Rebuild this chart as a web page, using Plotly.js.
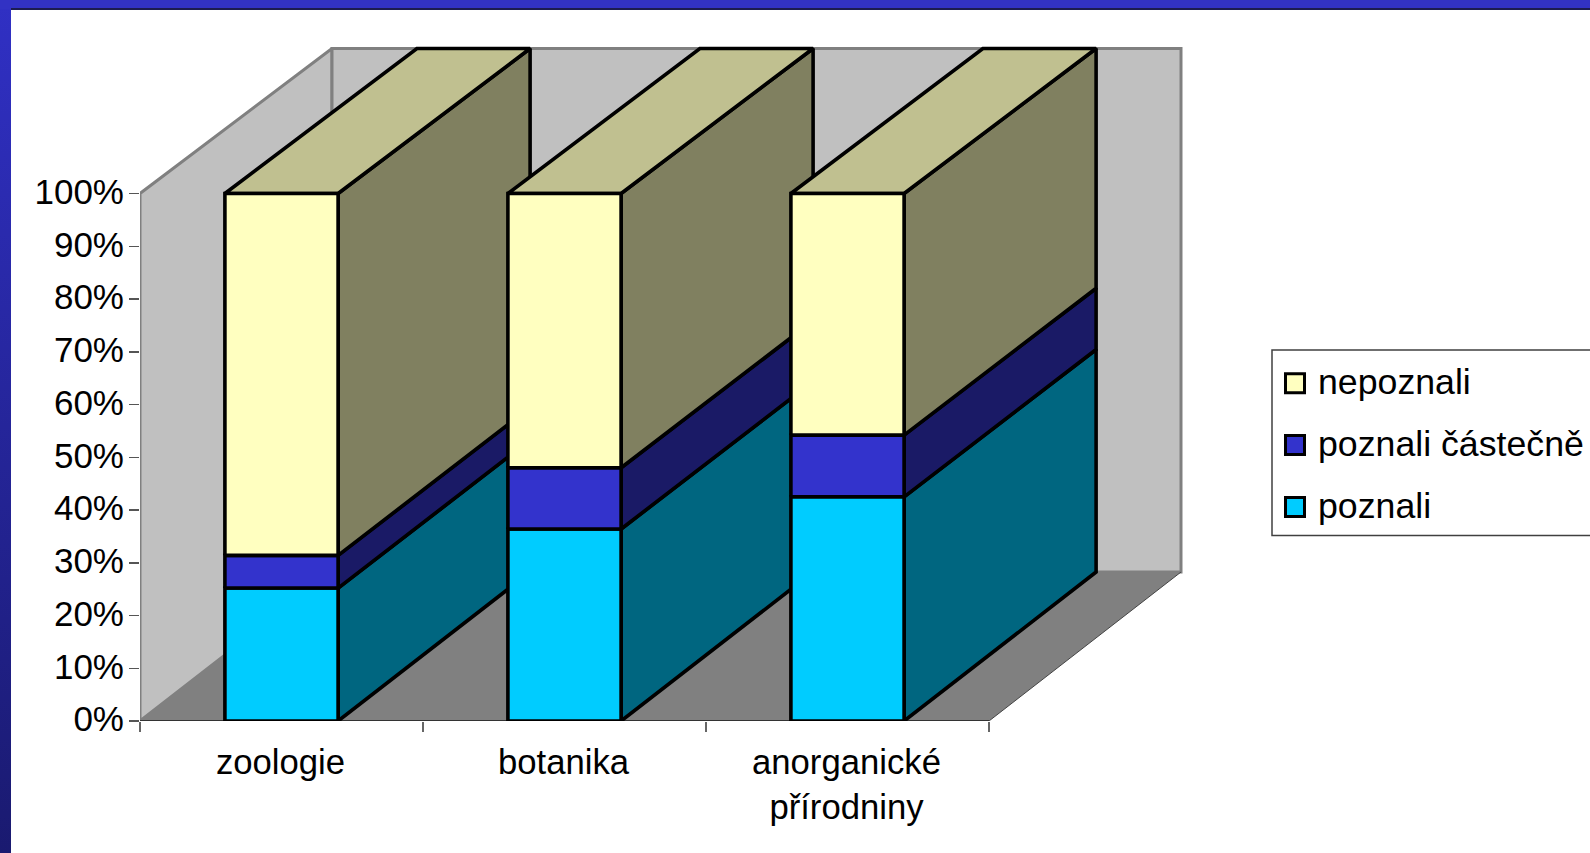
<!DOCTYPE html>
<html><head><meta charset="utf-8">
<script src="https://cdn.plot.ly/plotly-3.0.1.min.js"></script>
<style>
html,body{margin:0;padding:0;background:#fff;width:1590px;height:853px;overflow:hidden}
#left{position:absolute;left:0;top:0;width:11px;height:853px;background:linear-gradient(#3030c4,#1a1a70)}
#topband{position:absolute;left:0;top:0;width:1590px;height:9px;background:#3232c4}
#topline{position:absolute;left:11px;top:8px;width:1579px;height:2px;background:#1c1c50}
#plot{position:absolute;left:0;top:0;width:1590px;height:853px}
</style></head><body>
<div id="left"></div><div id="topband"></div><div id="topline"></div><div id="plot"></div>
<script>
const categories = ['zoologie','botanika','anorganické<br>přírodniny'];
const poznali = [25.2, 36.4, 42.5];
const castecne = [6.2, 11.6, 11.7];
const nepoznali = [68.6, 52, 45.8];
const seriesNames = ['poznali','poznali částečně','nepoznali'];
const seriesValues = [poznali, castecne, nepoznali];
const frontColors = ['#00ccff','#3333cc','#ffffc0'];
const sideColors = ['#006680','#1a1a66','#808060'];
const topColor = '#c0c090';
const yTicks = [0,10,20,30,40,50,60,70,80,90,100];

// layout constants (px on page)
const W=1590,H=853, X0=140, CAT=283, Y0=721, PCT=5.275;
const DX=192/CAT, barW=0.4;
const depthY = v => (149 - 4*v/100)/PCT;
const P = (x,d,v) => [x + d*DX, v + d*depthY(v)];
const left=-0.5, right=categories.length-0.5;
const FONT='"Liberation Sans", Arial, sans-serif';

const traces=[];
function poly(pts, fill, color, width, closed=true){
  const p = closed ? pts.concat([pts[0]]) : pts;
  traces.push({type:'scatter',mode:width?'lines':'none',x:p.map(a=>a[0]),y:p.map(a=>a[1]),
    fill:fill?'toself':'none',fillcolor:fill||undefined,
    line:{color:color||'rgba(0,0,0,0)',width:width||0,shape:'linear'},
    hoverinfo:'skip',showlegend:false,xaxis:'x',yaxis:'y'});
}
const rect=(x,d0,d1,v0,v1)=>[P(x,d0,v0),P(x,d1,v0),P(x,d1,v1),P(x,d0,v1)];

// walls and floor
poly(rect(left,0,1,0,100),'#c0c0c0','#808080',3);
poly([P(left,1,0),P(right,1,0),P(right,1,100),P(left,1,100)],'#c0c0c0','#808080',3);
poly([P(left,0,0),P(right,0,0),P(right,1,0),P(left,1,0)],'#808080','#808080',0);
poly([P(right,0,0),P(right,1,0)],null,'#444444',1,false);
poly([P(left,0,0),P(right,0,0)],null,'#333333',2,false);

// boxes, left to right
const EDGE=3.6;
categories.forEach((c,i)=>{
  const l=i-barW/2, r=i+barW/2;
  let base=0; const fronts=[];
  seriesValues.forEach((vals,s)=>{
    const top=base+vals[i];
    poly(rect(r,0,1,base,top),sideColors[s],'#000',EDGE);
    fronts.push([[P(l,0,base),P(r,0,base),P(r,0,top),P(l,0,top)],frontColors[s]]);
    base=top;
  });
  poly([P(l,0,base),P(r,0,base),P(r,1,base),P(l,1,base)],topColor,'#000',EDGE);
  fronts.forEach(f=>poly(f[0],f[1],'#000',EDGE));
});

// key
const keyOrder=[2,1,0];
const keyNames=keyOrder.map(k=>seriesNames[k]);
traces.push({type:'scatter',mode:'markers',xaxis:'x2',yaxis:'y2',
  x:keyOrder.map(()=>0), y:keyNames, cliponaxis:false,
  marker:{symbol:'square',size:19,color:keyOrder.map(k=>frontColors[k]),line:{color:'#000',width:3}},
  hoverinfo:'skip',showlegend:false});
traces.push({type:'scatter',mode:'text',xaxis:'x2',yaxis:'y3',
  x:keyOrder.map(()=>23), y:keyNames, text:keyNames,textposition:'middle right',
  textfont:{family:FONT,size:35.7,color:'#000'},cliponaxis:false,
  hoverinfo:'skip',showlegend:false});

const keyAxis=(shift)=>({domain:[(H-536-shift)/H,(H-350-shift)/H],type:'category',categoryorder:'array',
    categoryarray:keyNames,range:[2.47,-0.537],anchor:'x2',visible:false,fixedrange:true});

const layout={
  width:W,height:H,margin:{l:0,r:0,t:0,b:0,autoexpand:false},
  paper_bgcolor:'rgba(0,0,0,0)',plot_bgcolor:'rgba(0,0,0,0)',
  showlegend:false,font:{family:FONT,size:35,color:'#000'},
  xaxis:{domain:[X0/W,(X0+CAT*3.71)/W],range:[-0.5,3.21],showgrid:false,zeroline:false,showline:false,
    tickmode:'array',tickvals:categories.map((c,i)=>i),ticktext:categories,ticks:'',ticklabelstandoff:17,ticklabelshift:-1,
    tickangle:0,tickfont:{family:FONT,size:34.7,color:'#000'},
    minor:{tickmode:'array',tickvals:[-0.5,0.5,1.5,2.5],ticks:'outside',ticklen:10,tickwidth:1.5,tickcolor:'#666',showgrid:false}},
  yaxis:{domain:[(H-Y0)/H,(H-Y0+130*PCT)/H],range:[0,130],showgrid:false,zeroline:false,showline:false,
    tickmode:'array',tickvals:yTicks,ticktext:yTicks.map(v=>v+'%'),ticks:'outside',ticklen:10,tickwidth:1.5,tickcolor:'#555',
    ticklabelstandoff:-2,ticklabelshift:-2,tickfont:{family:FONT,size:35,color:'#000'}},
  xaxis2:{domain:[1295/W,1],range:[0,295],anchor:'y2',visible:false,fixedrange:true},
  yaxis2:keyAxis(0),
  yaxis3:keyAxis(2),
  shapes:[{type:'rect',xref:'paper',yref:'paper',x0:1272/W,x1:1.02,y0:(H-535.5)/H,y1:(H-350)/H,
    line:{color:'#404040',width:1.5},fillcolor:'rgba(0,0,0,0)',layer:'below'}]
};
Plotly.newPlot('plot',traces,layout,{displayModeBar:false,staticPlot:true});
</script></body></html>
